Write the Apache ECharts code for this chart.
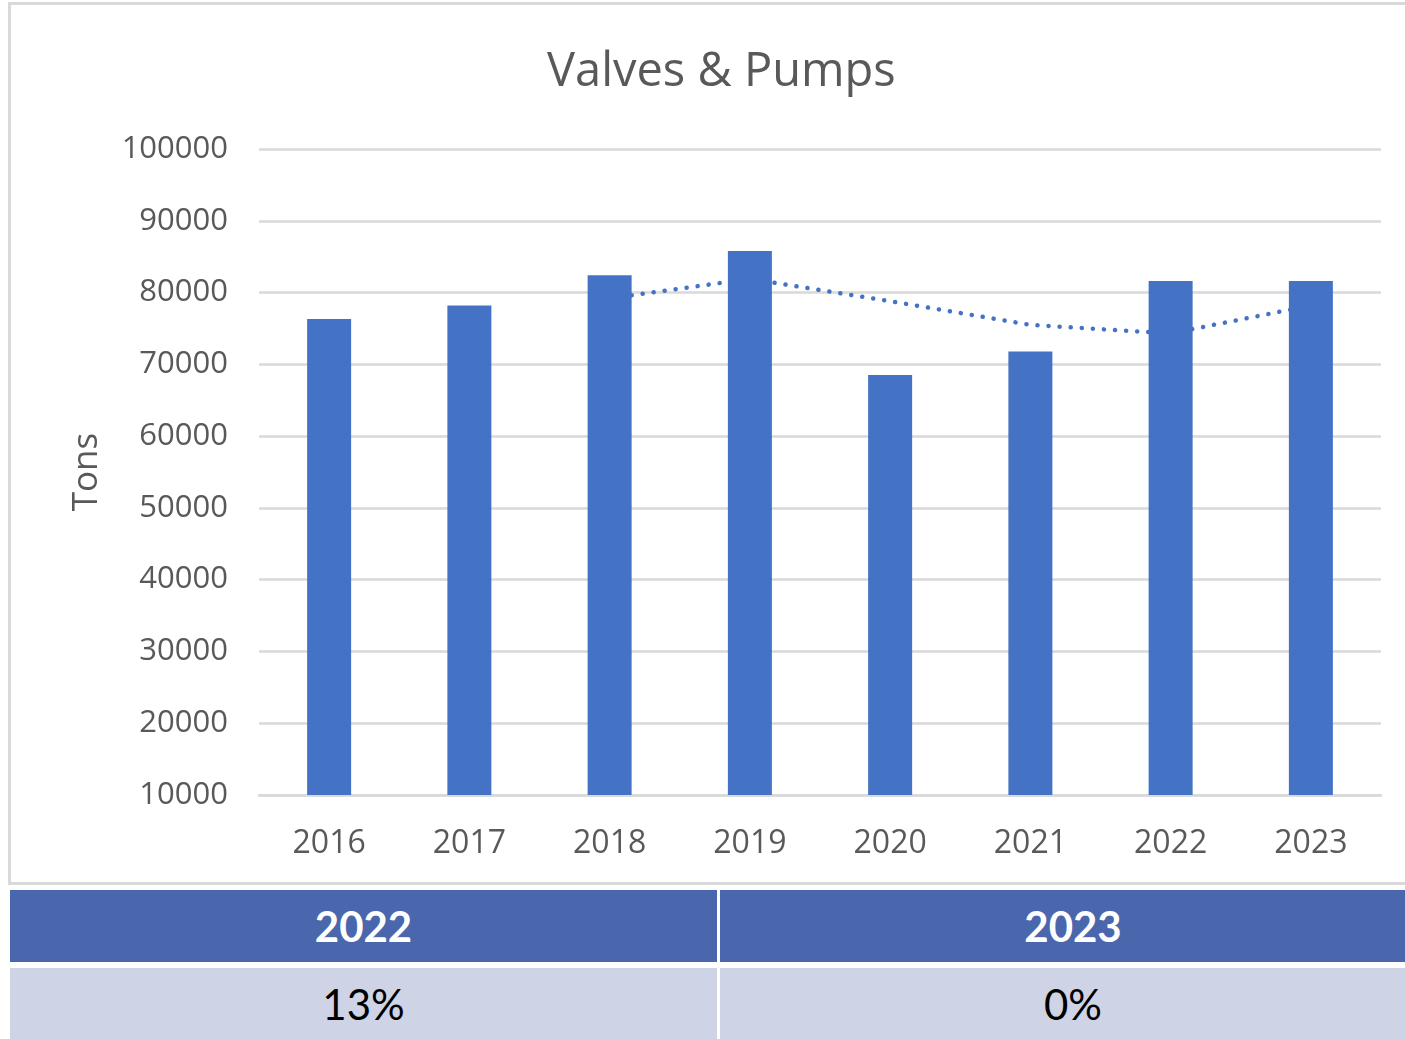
<!DOCTYPE html>
<html>
<head>
<meta charset="utf-8">
<script src="https://cdn.jsdelivr.net/npm/echarts@6/dist/echarts.min.js"></script>
<style>
    html, body {
        margin: 0;
        padding: 0;
        width: 1405px;
        height: 1039px;
        overflow: hidden;
        background: #fff;
    }
    .chart-box {
        position: absolute;
        left: 8px;
        top: 2px;
        width: 1400px;
        height: 883px;
        border: 3px solid #d9d9d9;
        box-sizing: border-box;
    }
    .table-box {
        position: absolute;
        left: 10px;
        top: 890px;
        width: 1420px;
        font-family: Lato, 'Open Sans', sans-serif;
        font-size: 42px;
    }
    .row {
        display: flex;
    }
    .cell {
        flex: none;
        display: flex;
        align-items: center;
        justify-content: center;
    }
    .head .cell {
        height: 72px;
        background: #4a67ae;
        color: #fff;
        font-weight: bold;
    }
    .body {
        margin-top: 6px;
    }
    .body .cell {
        height: 71px;
        background: #cfd3e6;
        color: #000;
    }
    .cell.first {
        width: 707px;
        margin-right: 3px;
    }
    .cell.second {
        width: 706px;
    }
</style>
</head>
<body>
<div class="chart-box" id="chart"></div>
<div class="table-box">
    <div class="row head" id="tableHead"></div>
    <div class="row body" id="tableBody"></div>
</div>
<script>
    const years = ['2016', '2017', '2018', '2019', '2020', '2021', '2022', '2023']
    const tons = [76300, 78200, 82400, 85800, 68500, 71800, 81600, 81600]
    // dotted trend line as it appears in the picture
    const trend = [null, null, 79200, 81900, 78800, 75500, 74300, 78200]
    const tableYears = ['2022', '2023']
    const tableChanges = ['13%', '0%']

    const head = document.getElementById('tableHead')
    const body = document.getElementById('tableBody')
    tableYears.forEach((item, i) => {
        const c = document.createElement('div')
        c.className = 'cell ' + (i === 0 ? 'first' : 'second')
        c.textContent = item
        head.appendChild(c)
    })
    tableChanges.forEach((item, i) => {
        const c = document.createElement('div')
        c.className = 'cell ' + (i === 0 ? 'first' : 'second')
        c.textContent = item
        body.appendChild(c)
    })

    const chart = echarts.init(document.getElementById('chart'))
    const textColor = '#595959'
    const font = "'Open Sans', sans-serif"
    const options = {
        animation: false,
        title: {
            text: 'Valves & Pumps',
            left: 531,
            top: 39,
            textStyle: {
                fontFamily: font,
                fontSize: 47,
                fontWeight: 'normal',
                color: textColor
            }
        },
        grid: {
            left: 248,
            top: 144,
            width: 1122,
            height: 646
        },
        xAxis: {
            type: 'category',
            data: years,
            axisLine: {
                lineStyle: { color: '#d9d9d9', width: 2.5 }
            },
            axisTick: { show: false },
            axisLabel: {
                margin: 33,
                fontFamily: font,
                fontSize: 32,
                color: textColor
            }
        },
        yAxis: {
            type: 'value',
            min: 10000,
            max: 100000,
            interval: 10000,
            name: 'Tons',
            nameLocation: 'middle',
            nameGap: 154,
            nameTextStyle: {
                fontFamily: font,
                fontSize: 35,
                color: textColor
            },
            axisLabel: {
                margin: 31,
                fontFamily: font,
                fontSize: 31,
                color: textColor,
                formatter: v => String(v)
            },
            splitLine: {
                lineStyle: { color: '#d9d9d9', width: 2.5 }
            }
        },
        series: [
            {
                type: 'bar',
                data: tons,
                barWidth: 44,
                z: 3,
                itemStyle: { color: '#4472c4' }
            },
            {
                type: 'line',
                data: trend,
                z: 2,
                symbol: 'none',
                lineStyle: {
                    color: '#4472c4',
                    width: 4.5,
                    type: [0.1, 11],
                    cap: 'round'
                }
            }
        ]
    }
    chart.setOption(options)
</script>
</body>
</html>
